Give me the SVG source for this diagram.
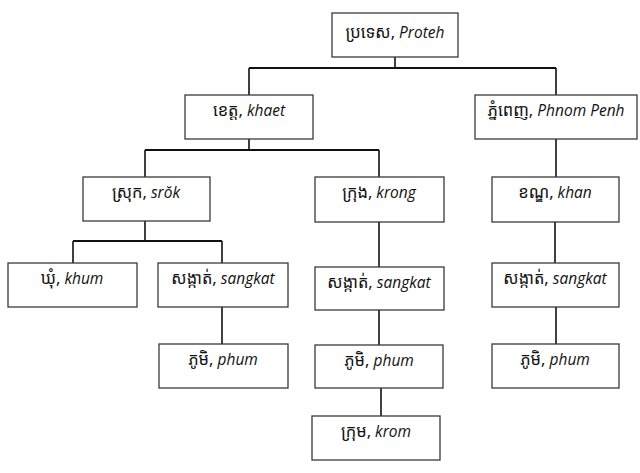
<svg xmlns="http://www.w3.org/2000/svg" width="640" height="473" viewBox="0 0 640 473">
<style>
.box{fill:#fff;stroke:#3a3a3a;stroke-width:1.3}
.ln{stroke:#111;stroke-width:1.6;fill:none}
.hl{stroke:#111;stroke-width:2;fill:none}
text{font-family:"Noto Sans Khmer","Khmer OS","Noto Sans","DejaVu Sans",sans-serif;font-size:16.5px;fill:#111;text-anchor:middle}
.it{font-family:"Open Sans","Noto Sans","Liberation Sans",sans-serif;font-style:italic;font-size:15.5px}
</style>
<rect width="640" height="473" fill="#fff"/>
<g id="connectors">
<path class="ln" d="M395 57V68"/>
<path class="hl" d="M249 68H556"/>
<path class="ln" d="M249 68V95M556 68V95"/>
<path class="ln" d="M249 139V150"/>
<path class="hl" d="M145 150H379"/>
<path class="ln" d="M145 150V177M379 150V177"/>
<path class="ln" d="M556 139V177"/>
<path class="ln" d="M145 221V241"/>
<path class="hl" d="M73 241H222"/>
<path class="ln" d="M73 241V263M222 241V263"/>
<path class="ln" d="M379 222V267"/>
<path class="ln" d="M555 222V263"/>
<path class="ln" d="M222 307V344"/>
<path class="ln" d="M379 310V345"/>
<path class="ln" d="M381 388V416"/>
<path class="ln" d="M556 307V344"/>
</g>
<g id="proteh"><rect class="box" x="332" y="13" width="126" height="44"/><text x="395" y="38">ប្រទេស, <tspan class="it">Proteh</tspan></text></g>
<g id="khaet"><rect class="box" x="185" y="95" width="128" height="44"/><text x="249" y="116">ខេត្ត, <tspan class="it">khaet</tspan></text></g>
<g id="phnompenh"><rect class="box" x="475" y="95" width="162" height="44"/><text x="556" y="116">ភ្នំពេញ, <tspan class="it">Phnom Penh</tspan></text></g>
<g id="srok"><rect class="box" x="83" y="177" width="127" height="44"/><text x="146" y="198">ស្រុក, <tspan class="it">srŏk</tspan></text></g>
<g id="krong"><rect class="box" x="315" y="177" width="129" height="45"/><text x="379" y="198">ក្រុង, <tspan class="it">krong</tspan></text></g>
<g id="khan"><rect class="box" x="492" y="177" width="127" height="45"/><text x="555" y="198">ខណ្ឌ, <tspan class="it">khan</tspan></text></g>
<g id="khum"><rect class="box" x="8" y="263" width="129" height="44"/><text x="72" y="284">ឃុំ, <tspan class="it">khum</tspan></text></g>
<g id="sangkat1"><rect class="box" x="158" y="263" width="130" height="44"/><text x="223" y="284">សង្កាត់, <tspan class="it">sangkat</tspan></text></g>
<g id="sangkat2"><rect class="box" x="315" y="267" width="129" height="43"/><text x="379" y="288">សង្កាត់, <tspan class="it">sangkat</tspan></text></g>
<g id="sangkat3"><rect class="box" x="492" y="263" width="127" height="44"/><text x="555" y="284">សង្កាត់, <tspan class="it">sangkat</tspan></text></g>
<g id="phum1"><rect class="box" x="159" y="344" width="129" height="44"/><text x="223" y="365">ភូមិ, <tspan class="it">phum</tspan></text></g>
<g id="phum2"><rect class="box" x="315" y="345" width="128" height="43"/><text x="379" y="366">ភូមិ, <tspan class="it">phum</tspan></text></g>
<g id="phum3"><rect class="box" x="492" y="344" width="127" height="44"/><text x="555" y="365">ភូមិ, <tspan class="it">phum</tspan></text></g>
<g id="krom"><rect class="box" x="312" y="416" width="128" height="44"/><text x="376" y="437">ក្រុម, <tspan class="it">krom</tspan></text></g>
</svg>
